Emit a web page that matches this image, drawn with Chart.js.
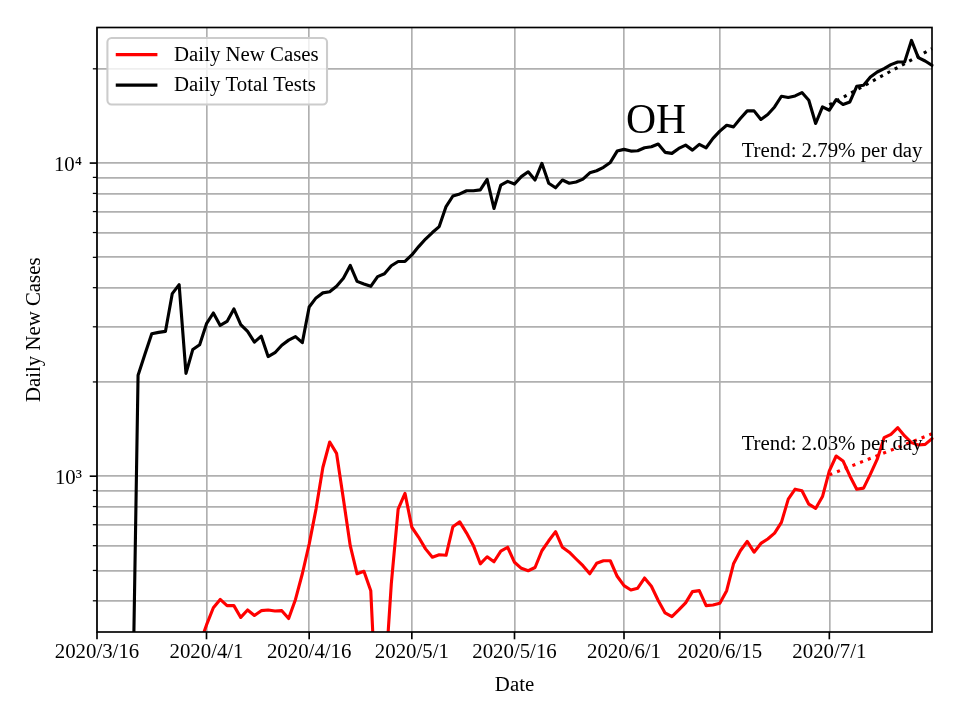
<!DOCTYPE html>
<html>
<head>
<meta charset="utf-8">
<script src="https://cdn.jsdelivr.net/npm/chart.js@4/dist/chart.umd.min.js"></script>
<style>
html,body{margin:0;padding:0;background:#fff;}
canvas{display:block;}
</style>
</head>
<body>
<canvas id="c" width="960" height="720"></canvas>
<script>
// ---------------- data ----------------
const firstDay = '2020-03-16';
const dayCount = 123;
const dates = [];
for (let i = 0; i < dayCount; i++) {
  const d = new Date(Date.UTC(2020, 2, 16 + i));
  dates.push(d.getUTCFullYear() + '/' + (d.getUTCMonth() + 1) + '/' + d.getUTCDate());
}
const xTickLabels = ['2020/3/16','2020/4/1','2020/4/16','2020/5/1','2020/5/16','2020/6/1','2020/6/15','2020/7/1'];
const yTickValues = [400,500,600,700,800,900,1000,2000,3000,4000,5000,6000,7000,8000,9000,10000,20000];
const yMajorTicks = [1000, 10000];
const yTickLabels = {1000: '10³', 10000: '10⁴'};

const dailyNewCases = [
  40, 50, 60, 75, 90, 110, 130, 150, 170, 190, 210, 230, 250, 260, 275,
  290,
  335, 380, 404, 386, 386, 354, 374, 359, 372, 374,
  371, 372, 351, 404, 488, 607, 785, 1066, 1286, 1183,
  845, 600, 488, 497, 431, 150, 210, 453, 785, 881,
  687, 638, 586, 551, 561, 559, 690, 715, 658, 600,
  525, 553, 533, 576, 593, 531, 508, 499, 511, 578,
  622, 665, 593, 572, 544, 518, 488, 527, 537, 537,
  479, 447, 433, 439, 473, 445, 401, 366, 356, 374,
  394, 428, 431, 386, 388, 393, 431, 525, 578, 619,
  572, 610, 630, 658, 712, 845, 909, 898, 814, 789,
  861, 1040, 1160, 1119, 1002, 909, 916, 1015, 1133, 1328,
  1361, 1429, 1344, 1280, 1258, 1264, 1318
];
const dailyTotalTests = [
  60, 70, 75, 85, 90, 95,
  2100, 2450, 2850, 2880, 2900, 3830, 4090, 2130, 2540, 2630,
  3070, 3320, 3030, 3120, 3420, 3050, 2900, 2680, 2800, 2410,
  2480, 2620, 2720, 2790, 2670, 3470, 3710, 3850, 3880, 4040,
  4290, 4710, 4190, 4110, 4040, 4340, 4430, 4700, 4850, 4850,
  5090, 5410, 5720, 6000, 6270, 7260, 7850, 7970, 8160, 8160,
  8210, 8870, 7160, 8510, 8740, 8570, 9050, 9380, 8830, 9980,
  8620, 8340, 8830, 8620, 8700, 8890, 9310, 9450, 9690, 10050,
  10920, 11060, 10920, 10950, 11190, 11270, 11500, 10820, 10740, 11140,
  11410, 11000, 11470, 11190, 11990, 12650, 13210, 13050, 13880, 14680,
  14680, 13780, 14290, 15110, 16350, 16190, 16380, 16800, 15870, 13380,
  15110, 14750, 15950, 15380, 15670, 17590, 17720, 18830, 19540, 20030,
  20620, 21020, 21020, 24650, 21710, 21180, 20510
];
const trendDates = ['2020/7/1', '2020/7/16'];
const casesTrend = [1010, 1366];
const testsTrend = [15350, 23200];
const seriesNames = ['Daily New Cases', 'Daily Total Tests'];
const seriesColors = ['#ff0000', '#000000'];
const casesTrendText = 'Trend: 2.03% per day';
const testsTrendText = 'Trend: 2.79% per day';
const stateLabel = 'OH';

// ---------------- style ----------------
const PX = 150 / 72;
const FONT = "'Liberation Serif', 'Times New Roman', Times, serif";
const FS = 10 * PX;
Chart.defaults.font.family = FONT;
Chart.defaults.font.size = FS;
Chart.defaults.color = '#000';

const LW = 1.5 * PX;
const DOT = [1 * LW, 1.65 * LW];

const overlay = {
  id: 'overlay',
  afterDraw(chart) {
    const {ctx, chartArea: a, scales: {x, y}} = chart;
    ctx.save();
    ctx.strokeStyle = '#000';
    ctx.lineCap = 'butt';
    // tick marks
    x.ticks.forEach((t, i) => {
      const px = x.getPixelForTick(i);
      ctx.lineWidth = 0.8 * PX;
      ctx.beginPath(); ctx.moveTo(px, a.bottom); ctx.lineTo(px, a.bottom + 3.5 * PX); ctx.stroke();
    });
    y.ticks.forEach(t => {
      const py = y.getPixelForValue(t.value);
      const major = yMajorTicks.includes(t.value);
      ctx.lineWidth = (major ? 0.8 : 0.6) * PX;
      ctx.beginPath(); ctx.moveTo(a.left - (major ? 3.5 : 2) * PX, py); ctx.lineTo(a.left, py); ctx.stroke();
    });
    // spines
    ctx.lineWidth = 0.8 * PX;
    ctx.strokeRect(a.left, a.top, a.right - a.left, a.bottom - a.top);

    // annotations
    ctx.fillStyle = '#000';
    ctx.font = (20 * PX) + 'px ' + FONT;
    ctx.textAlign = 'left';
    ctx.textBaseline = 'alphabetic';
    ctx.fillText(stateLabel, 626, 133.3);
    ctx.font = FS + 'px ' + FONT;
    ctx.textAlign = 'right';
    ctx.fillText(testsTrendText, a.right - 9.5, 156.7);
    ctx.fillText(casesTrendText, a.right - 9.5, 450);

    // legend
    const pad = 0.4 * FS, hl = 2 * FS, htp = 0.8 * FS;
    const lx = a.left + 0.5 * FS, ly = a.top + 0.5 * FS;
    ctx.font = FS + 'px ' + FONT;
    const tw = Math.max(...seriesNames.map(s => ctx.measureText(s).width));
    const lw = pad + hl + htp + tw + pad, lh = 66.6;
    const r = 0.2 * FS;
    ctx.beginPath();
    ctx.moveTo(lx + r, ly);
    ctx.arcTo(lx + lw, ly, lx + lw, ly + lh, r);
    ctx.arcTo(lx + lw, ly + lh, lx, ly + lh, r);
    ctx.arcTo(lx, ly + lh, lx, ly, r);
    ctx.arcTo(lx, ly, lx + lw, ly, r);
    ctx.closePath();
    ctx.fillStyle = 'rgba(255,255,255,0.8)';
    ctx.fill();
    ctx.strokeStyle = '#cccccc';
    ctx.lineWidth = 1.0 * PX;
    ctx.stroke();
    const rows = [ly + 16.7, ly + 47.2];
    seriesNames.forEach((s, i) => {
      ctx.strokeStyle = seriesColors[i];
      ctx.lineWidth = LW;
      ctx.beginPath(); ctx.moveTo(lx + pad, rows[i]); ctx.lineTo(lx + pad + hl, rows[i]); ctx.stroke();
      ctx.fillStyle = '#000';
      ctx.textAlign = 'left';
      ctx.textBaseline = 'middle';
      ctx.fillText(s, lx + pad + hl + htp, rows[i] + 0.5);
    });
    ctx.restore();
  }
};

new Chart(document.getElementById('c'), {
  type: 'line',
  data: {
    labels: dates,
    datasets: [
      {label: seriesNames[0], data: dailyNewCases, borderColor: seriesColors[0], borderWidth: LW,
       pointRadius: 0, tension: 0, fill: false, borderJoinStyle: 'round', borderCapStyle: 'square'},
      {label: seriesNames[1], data: dailyTotalTests, borderColor: seriesColors[1], borderWidth: LW,
       pointRadius: 0, tension: 0, fill: false, borderJoinStyle: 'round', borderCapStyle: 'square'},
      {label: 'cases trend', data: trendDates.map((d, i) => ({x: d, y: casesTrend[i]})), borderColor: seriesColors[0],
       borderWidth: LW, borderDash: DOT, pointRadius: 0, tension: 0, fill: false},
      {label: 'tests trend', data: trendDates.map((d, i) => ({x: d, y: testsTrend[i]})), borderColor: seriesColors[1],
       borderWidth: LW, borderDash: DOT, pointRadius: 0, tension: 0, fill: false}
    ]
  },
  options: {
    responsive: false,
    animation: false,
    devicePixelRatio: 1,
    layout: {padding: {left: 0, top: 27, right: 28, bottom: 0}},
    plugins: {legend: {display: false}, tooltip: {enabled: false}},
    scales: {
      x: {
        type: 'category',
        offset: false,
        grid: {color: '#b0b0b0', lineWidth: 0.8 * PX, drawTicks: false},
        border: {display: false},
        ticks: {autoSkip: false, maxRotation: 0, minRotation: 0, padding: 8.5, color: '#000'},
        title: {display: true, text: 'Date', color: '#000', padding: {top: 0, bottom: 22}},
        afterBuildTicks: s => { s.ticks = s.ticks.filter(t => xTickLabels.includes(dates[t.value])); },
        afterFit: s => { s.height = 88; }
      },
      y: {
        type: 'logarithmic',
        min: 318,
        max: 27100,
        grid: {color: '#b0b0b0', lineWidth: 0.8 * PX, drawTicks: false},
        border: {display: false},
        ticks: {autoSkip: false, padding: 15, labelOffset: 2.5, color: '#000',
                callback: v => yTickLabels[v] || ''},
        title: {display: true, text: 'Daily New Cases', color: '#000', padding: {top: 22.5, bottom: 0}},
        afterBuildTicks: s => { s.ticks = yTickValues.map(v => ({value: v, major: yMajorTicks.includes(v)})); },
        afterFit: s => { s.width = 97; }
      }
    }
  },
  plugins: [overlay]
});
</script>
</body>
</html>
